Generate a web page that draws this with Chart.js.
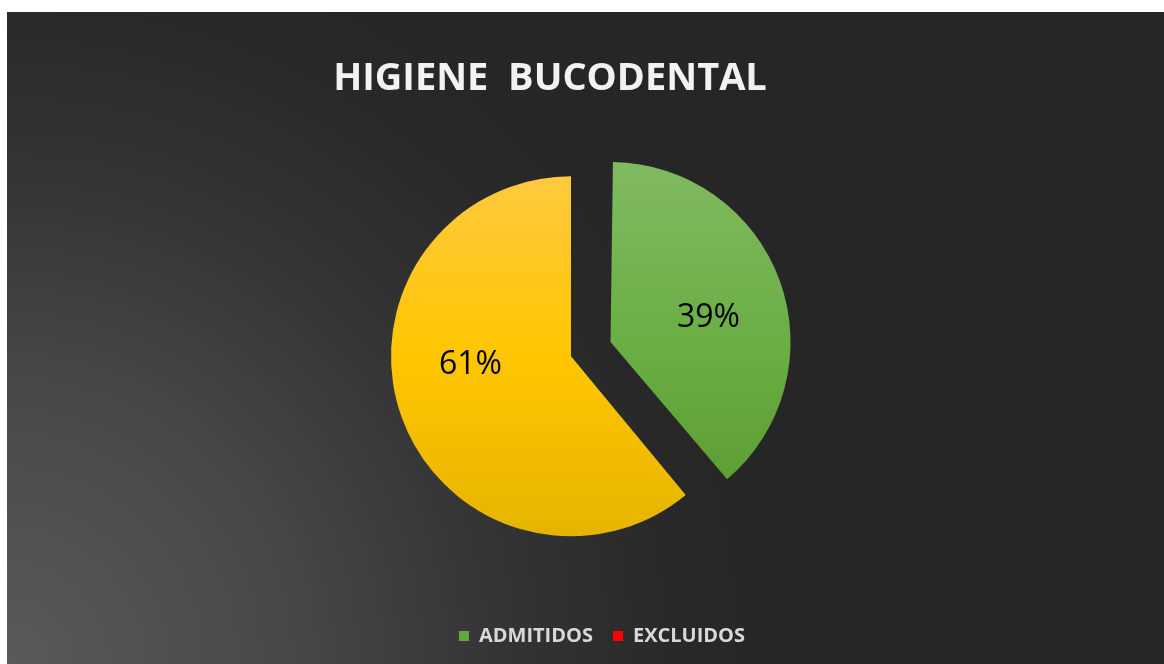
<!DOCTYPE html>
<html>
<head>
<meta charset="utf-8">
<script src="https://cdn.jsdelivr.net/npm/chart.js@4.4.1/dist/chart.umd.min.js"></script>
<style>
    html, body { margin: 0; padding: 0; background: #ffffff; }
    #box {
        position: absolute;
        left: 7px;
        top: 12px;
        width: 1157px;
        height: 652px;
        background: radial-gradient(circle 800px at 0% 100%, #5a5a5a 0%, #484848 35%, #343434 62%, #282828 85%, #262626 100%);
    }
</style>
</head>
<body>
<div id="box"><canvas id="pie" width="1157" height="652"></canvas></div>
<script>
const categories = ['ADMITIDOS', 'EXCLUIDOS'];
const values = [39, 61];
const percentLabels = ['39%', '61%'];
const sliceTop = ['#80ba60', '#ffc93f'];
const sliceBottom = ['#5a9a30', '#e6b400'];
const legendColors = ['#62a83c', '#ff0000'];
const explode = [168, 0];

// gradient fill per slice, top to bottom of the pie
const sliceFill = (context) => {
    const chart = context.chart;
    const area = chart.chartArea;
    if (!area) {
        return sliceTop[context.dataIndex];
    }
    const cy = (area.top + area.bottom) / 2;
    const g = chart.ctx.createLinearGradient(0, cy - 180, 0, cy + 180);
    g.addColorStop(0, sliceTop[context.dataIndex]);
    g.addColorStop(0.5, context.dataIndex == 0 ? '#6aae44' : '#ffc600');
    g.addColorStop(1, sliceBottom[context.dataIndex]);
    return g;
};

// exploded arcs grow in radius in chart.js, shrink them back
const keepRadius = {
    id: 'keepRadius',
    afterDatasetsUpdate(chart) {
        chart.getDatasetMeta(0).data.forEach(arc => {
            const off = (arc.options.offset || 0) / 4;
            const fix = 1 - Math.sin(Math.min(Math.PI, arc.circumference));
            arc.outerRadius -= off * fix;
        });
    }
};

// percent labels inside the slices (excel "best fit" sits a bit off the mid angle)
const sliceLabels = {
    id: 'sliceLabels',
    afterDatasetsDraw(chart, args, opts) {
        const ctx = chart.ctx;
        chart.getDatasetMeta(0).data.forEach((arc, i) => {
            const mid = (arc.startAngle + arc.endAngle) / 2 + opts.turn[i] * Math.PI / 180;
            const off = (arc.options.offset || 0) / 4;
            const r = 180 * 0.56;
            const half = (arc.startAngle + arc.endAngle) / 2;
            const cx = arc.x + Math.cos(half) * off;
            const cy = arc.y + Math.sin(half) * off;
            ctx.save();
            ctx.fillStyle = '#000000';
            ctx.font = '32px "Open Sans"';
            ctx.textAlign = 'center';
            ctx.textBaseline = 'middle';
            ctx.fillText(percentLabels[i], cx + Math.cos(mid) * r, cy + Math.sin(mid) * r);
            ctx.restore();
        });
    }
};

// move title and legend sideways like the original
const nudge = {
    id: 'nudge',
    afterLayout(chart) {
        chart.titleBlock.left -= 21;
        chart.titleBlock.right -= 21;
        chart.legend.left += 31;
        chart.legend.right += 31;
    }
};

const ctx = document.getElementById('pie').getContext('2d');
const chart = new Chart(ctx, {
    type: 'pie',
    data: {
        labels: categories,
        datasets: [{
            data: values,
            backgroundColor: sliceFill,
            borderWidth: 0,
            offset: explode,
            radius: 180,
        }]
    },
    options: {
        responsive: false,
        animation: false,
        layout: {
            padding: { top: 44, bottom: 8, left: 0, right: 29 }
        },
        plugins: {
            title: {
                display: true,
                text: 'HIGIENE  BUCODENTAL',
                color: '#f2f2f2',
                font: { family: 'Open Sans', size: 38, weight: 'bold' },
                padding: { top: 0, bottom: 5 }
            },
            legend: {
                position: 'bottom',
                display: true,
                labels: {
                    color: '#d9d9d9',
                    font: { family: 'Open Sans', size: 20, weight: 'bold' },
                    boxWidth: 10,
                    boxHeight: 10,
                    padding: 20,
                    generateLabels: () => categories.map((c, i) => ({
                        text: c,
                        fillStyle: legendColors[i],
                        strokeStyle: legendColors[i],
                        lineWidth: 0,
                        fontColor: '#d9d9d9',
                        hidden: false,
                        index: i
                    }))
                }
            },
            sliceLabels: { turn: [6, 15] },
            tooltip: { enabled: false }
        }
    },
    plugins: [keepRadius, sliceLabels, nudge]
});
</script>
</body>
</html>
